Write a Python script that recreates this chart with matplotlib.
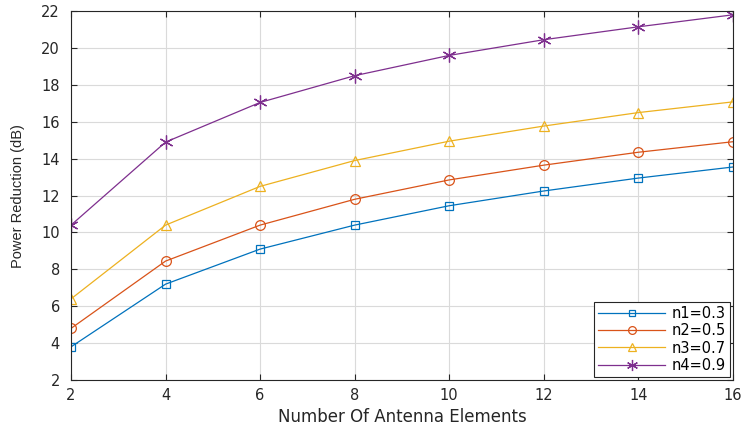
import matplotlib as mpl
import matplotlib.pyplot as plt

mpl.rcParams.update({
    "font.family": ["DejaVu Sans"],
    "xtick.direction": "in",
    "ytick.direction": "in",
    "xtick.top": True,
    "ytick.right": True,
})

elements = [2, 4, 6, 8, 10, 12, 14, 16]
n1_vals = [3.8, 7.2, 9.1, 10.4, 11.45, 12.25, 12.95, 13.55]
n2_vals = [4.8, 8.45, 10.4, 11.8, 12.85, 13.65, 14.35, 14.92]
n3_vals = [6.4, 10.4, 12.5, 13.9, 14.95, 15.77, 16.5, 17.08]
n4_vals = [10.4, 14.9, 17.05, 18.5, 19.6, 20.45, 21.15, 21.8]
labels = ["n1=0.3", "n2=0.5", "n3=0.7", "n4=0.9"]

colors = ["#0072BD", "#D95319", "#EDB120", "#7E2F8E"]
markers = ["s", "o", "^", (6, 2, 0)]
msizes = [6, 7, 7.5, 10]

fig = plt.figure(figsize=(7.42, 4.28), dpi=100)
ax = fig.add_axes([0.0957, 0.112, 0.892, 0.862])

for vals, lab, col, mk, ms in zip([n1_vals, n2_vals, n3_vals, n4_vals],
                                  labels, colors, markers, msizes):
    ax.plot(elements, vals, color=col, lw=0.9, marker=mk, ms=ms,
            mfc="none", mec=col, mew=0.9, label=lab)

ax.set_xlim(2, 16)
ax.set_ylim(2, 22)
ax.set_xticks(range(2, 17, 2))
ax.set_yticks(range(2, 23, 2))
ax.grid(True, color="#DADADA", lw=0.8)
ax.set_axisbelow(True)
for s in ax.spines.values():
    s.set_color("#262626")
    s.set_linewidth(0.8)
ax.tick_params(labelsize=10.5, colors="#262626", length=4)
ax.tick_params(axis="x", pad=6)
ax.tick_params(axis="y", pad=8)
ax.set_xlabel("Number Of Antenna Elements", fontsize=12, color="#262626",
              labelpad=3)
ax.set_ylabel("Power Reduction (dB)", fontsize=10.5, color="#262626",
              family="Liberation Sans")
ax.yaxis.set_label_coords(-0.07, 0.5)

leg = ax.legend(loc="lower right", fontsize=10.5, fancybox=False, framealpha=1,
                edgecolor="#262626", borderaxespad=0.2, handlelength=4.6,
                labelspacing=0.15, borderpad=0.3, markerscale=0.8,
                handletextpad=0.4)
leg.get_frame().set_linewidth(0.8)

fig.savefig("out.png", dpi=100)
